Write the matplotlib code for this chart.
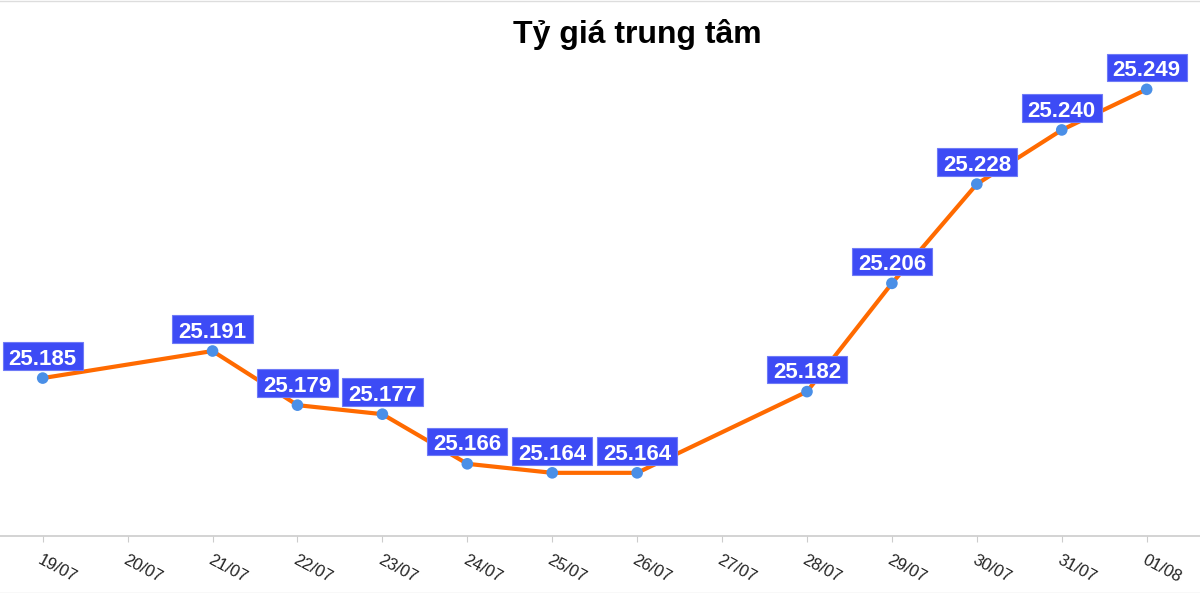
import matplotlib
matplotlib.use("Agg")
import matplotlib.pyplot as plt
from matplotlib.path import Path
import numpy as np

dates = ["19/07", "20/07", "21/07", "22/07", "23/07", "24/07", "25/07",
         "26/07", "27/07", "28/07", "29/07", "30/07", "31/07", "01/08"]
values = [25.185, None, 25.191, 25.179, 25.177, 25.166, 25.164,
          25.164, None, 25.182, 25.206, 25.228, 25.240, 25.249]
labels = ["25.185", None, "25.191", "25.179", "25.177", "25.166", "25.164",
          "25.164", None, "25.182", "25.206", "25.228", "25.240", "25.249"]
title = "Tỷ giá trung tâm"

plt.rcParams['font.family'] = ['Liberation Sans', 'DejaVu Sans']

W, H = 1200, 593
fig = plt.figure(figsize=(W / 100, H / 100), dpi=100)
ax = fig.add_axes([0, 1 - 536 / H, 1, 536 / H])

xs = [i for i, v in enumerate(values) if v is not None]
ys = [v for v in values if v is not None]
ls = [l for l in labels if l is not None]


def label_box(x0, y0, width, height, mutation_size):
    px = 0.27 * mutation_size
    top = 0.29 * mutation_size
    bot = 0.0
    l, r = x0 - px, x0 + width + px
    b, t = y0 - bot, y0 + height + top
    return Path([(l, b), (r, b), (r, t), (l, t), (l, b)],
                [Path.MOVETO, Path.LINETO, Path.LINETO, Path.LINETO,
                 Path.CLOSEPOLY])


ax.plot(xs, ys, color="#FF6A00", lw=3, zorder=2, solid_capstyle="round")
ax.scatter(xs, ys, s=70, color="#4A8FE7", zorder=3, edgecolors="none")

for x, y, l in zip(xs, ys, ls):
    ax.annotate(l, (x, y), xytext=(0, 6), textcoords="offset points",
                ha="center", va="bottom", color="white", fontsize=16,
                fontweight="bold", zorder=4,
                bbox=dict(boxstyle=label_box, fc="#3D4BF5",
                          ec="#6F7BF7", lw=0.8))

step = 84.92
ax.set_xlim(-42.7 / step, (W - 42.7) / step)
ax.set_ylim(25.150, 25.2688)
ax.set_xticks(range(len(dates)))
ax.set_xticklabels(dates, rotation=-28, ha="left", rotation_mode="anchor",
                   fontsize=12, color="#222222")
ax.tick_params(axis="x", length=4.5, color="#cccccc", pad=7)
ax.set_yticks([])
for s in ["top", "left", "right"]:
    ax.spines[s].set_visible(False)
ax.spines["bottom"].set_color("#cccccc")
ax.spines["bottom"].set_linewidth(1.2)
ax.patch.set_alpha(0)

fig.text(637 / W, 1 - 34 / H, title, ha="center", va="center",
         fontsize=23, fontweight="bold", color="#000000")

fig.add_artist(plt.Line2D([0, 1], [1 - 0.5 / H, 1 - 0.5 / H],
                          transform=fig.transFigure, color="#dddddd", lw=1))
fig.add_artist(plt.Line2D([0, 1], [0.5 / H, 0.5 / H],
                          transform=fig.transFigure, color="#dddddd", lw=1))

fig.savefig("out.png", dpi=100)
